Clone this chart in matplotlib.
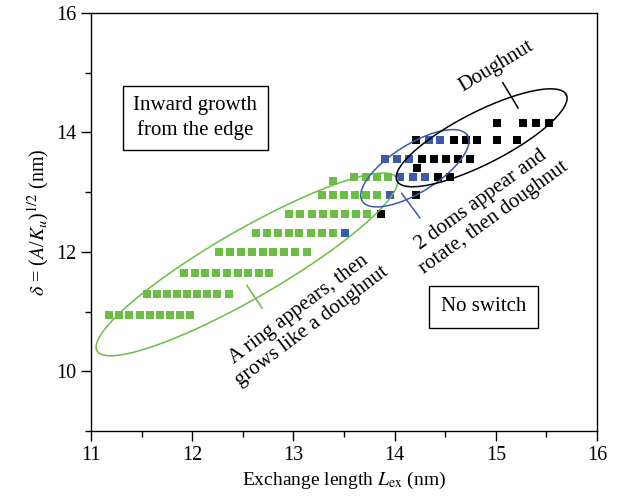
import matplotlib
matplotlib.use("Agg")
import matplotlib.pyplot as plt
import numpy as np

plt.rcParams['font.family'] = ['Liberation Serif', 'DejaVu Serif']
plt.rcParams['mathtext.fontset'] = 'stix'

GREEN = '#6abd45'
BLUE = '#3a5ba9'
BLACK = '#000000'

# rows of the simulated (L_ex, delta) grid, coloured by switching mode
green_x = [11.18, 11.28, 11.38, 11.48, 11.58, 11.68, 11.78, 11.88, 11.98,
           11.55, 11.65, 11.75, 11.85, 11.95, 12.05, 12.15, 12.25, 12.36,
           11.92, 12.03, 12.13, 12.24, 12.34, 12.45, 12.55, 12.66, 12.76,
           12.26, 12.37, 12.48, 12.59, 12.70, 12.80, 12.91, 13.02, 13.13,
           12.63, 12.74, 12.85, 12.96, 13.06, 13.17, 13.28, 13.39,
           12.96, 13.07, 13.18, 13.29, 13.40, 13.51, 13.62, 13.73,
           13.28, 13.39, 13.50, 13.61, 13.72, 13.83,
           13.39,
           13.60, 13.72, 13.83, 13.93]
green_y = [10.94] * 9 + [11.29] * 9 + [11.65] * 9 + [12.00] * 9 \
    + [12.32] * 8 + [12.63] * 8 + [12.96] * 6 + [13.18] + [13.26] * 4

blue_x = [13.51, 13.95, 14.05, 14.18, 14.30, 13.91, 14.02, 14.14, 14.34, 14.45]
blue_y = [12.32, 12.96, 13.26, 13.26, 13.26, 13.56, 13.56, 13.56, 13.87, 13.87]

black_x = [13.87, 14.21, 14.43, 14.55, 14.22,
           14.27, 14.39, 14.51, 14.63, 14.75,
           14.21, 14.59, 14.71, 14.81, 15.01, 15.21,
           15.01, 15.27, 15.40, 15.53]
black_y = [12.63, 12.96, 13.26, 13.26, 13.41] + [13.56] * 5 + [13.87] * 6 + [14.15] * 4

# pixels per data unit, used so the ellipses keep their on-screen shape
PX_X = 101.2
PX_Y = 59.7


def ellipse_curve(cx, cy, a_px, b_px, ang_deg):
    t = np.linspace(0, 2 * np.pi, 400)
    th = np.radians(ang_deg)
    dx = a_px * np.cos(t) * np.cos(th) - b_px * np.sin(t) * np.sin(th)
    dy = a_px * np.cos(t) * np.sin(th) + b_px * np.sin(t) * np.cos(th)
    return cx + dx / PX_X, cy + dy / PX_Y


fig = plt.figure(figsize=(6.31, 5.03), dpi=100)
ax = fig.add_axes([0.1442, 0.1431, 0.8019, 0.8311])

ms = 6.2
ax.plot(green_x, green_y, 's', color=GREEN, ms=ms, mew=0, zorder=2)
ax.plot(blue_x, blue_y, 's', color=BLUE, ms=ms, mew=0, zorder=2)
ax.plot(black_x, black_y, 's', color=BLACK, ms=ms, mew=0, zorder=2)

ex, ey = ellipse_curve(12.54, 11.79, 173, 34, 30)
ax.plot(ex, ey, color=GREEN, lw=1.1, zorder=3)
ex, ey = ellipse_curve(14.20, 13.40, 62, 24, 32)
ax.plot(ex, ey, color=BLUE, lw=1.1, zorder=3)
ex, ey = ellipse_curve(14.86, 13.91, 95, 26, 27)
ax.plot(ex, ey, color=BLACK, lw=1.1, zorder=3)

# leader lines from labels to the regions
ax.plot([12.54, 12.69], [11.44, 11.06], color=GREEN, lw=1.1)
ax.plot([14.07, 14.25], [12.98, 12.57], color=BLUE, lw=1.1)
ax.plot([15.07, 15.22], [14.83, 14.41], color=BLACK, lw=1.1)

fs = 15
ax.text(12.03, 14.24, "Inward growth\nfrom the edge", ha='center', va='center',
        fontsize=fs, linespacing=1.3,
        bbox=dict(boxstyle='square,pad=0.5', fc='white', ec='black', lw=1.0))
ax.text(14.88, 11.08, "No switch", ha='center', va='center', fontsize=fs,
        bbox=dict(boxstyle='square,pad=0.55', fc='white', ec='black', lw=1.0))
ax.text(15.01, 15.10, "Doughnut", ha='center', va='center', fontsize=fs,
        rotation=31, rotation_mode='anchor')
ax.text(14.92, 12.72, "2 doms appear and\nrotate, then doughnut", ha='center',
        va='center', fontsize=fs, rotation=36, rotation_mode='anchor',
        linespacing=1.15)
ax.text(13.12, 10.90, "A ring appears, then\ngrows like a doughnut", ha='center',
        va='center', fontsize=fs, rotation=37, rotation_mode='anchor',
        linespacing=1.15)

ax.set_xlim(11, 16)
ax.set_ylim(9, 16)
ax.set_xticks([11, 12, 13, 14, 15, 16])
ax.set_xticks(np.arange(11.5, 16, 1.0), minor=True)
ax.set_yticks([10, 12, 14, 16])
ax.set_yticks([9, 11, 13, 15], minor=True)
ax.tick_params(which='both', direction='out', top=False, right=False,
               labelsize=14.5, width=1.0)
ax.tick_params(which='major', length=7)
ax.tick_params(which='minor', length=4)
for s in ax.spines.values():
    s.set_linewidth(1.0)

ax.set_xlabel(r"Exchange length $L_{\mathrm{ex}}$ (nm)", fontsize=14)
ax.set_ylabel(r"$\delta$ = ($A$/$K_u$)$^{1/2}$ (nm)", fontsize=14.5)

fig.savefig("out.png", dpi=100)
